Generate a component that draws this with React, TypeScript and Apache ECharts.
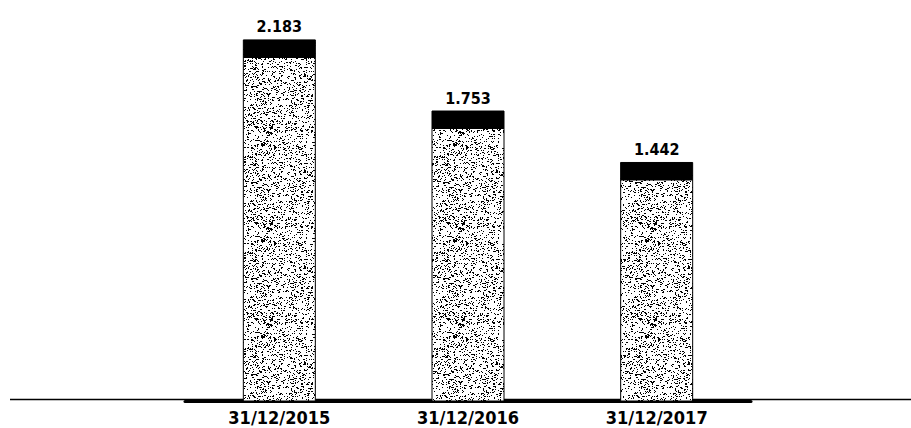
import React, { useEffect, useRef } from "react";
import * as echarts from "echarts";

const categories = ["31/12/2015", "31/12/2016", "31/12/2017"];
const values = [2183, 1753, 1442];
const valueLabels = ["2.183", "1.753", "1.442"];

function makeStipple(): HTMLCanvasElement {
  const size = 96;
  const c = document.createElement("canvas");
  c.width = size;
  c.height = size;
  const ctx = c.getContext("2d")!;
  ctx.fillStyle = "#ffffff";
  ctx.fillRect(0, 0, size, size);
  ctx.fillStyle = "#000000";
  let s = 1234567;
  const next = () => {
    s = (s * 1103515245 + 12345) & 0x7fffffff;
    return s / 0x7fffffff;
  };
  for (let y = 0; y < size; y++) {
    for (let x = 0; x < size; x++) {
      const r = next();
      if (r < 0.13) ctx.fillRect(x, y, 1, 1);
      else if (r < 0.16) ctx.fillRect(x, y, 2, 1);
    }
  }
  return c;
}

export default function App() {
  const ref = useRef<HTMLDivElement>(null);
  useEffect(() => {
    if (!ref.current) return;
    const chart = echarts.init(ref.current, null, { renderer: "svg" });
    const stipple = makeStipple();
    const pattern = { image: stipple, repeat: "repeat", imageWidth: 96, imageHeight: 96 };
    const barW = 72;
    const capH = 18;
    const font = "'DejaVu Sans Condensed', 'DejaVu Sans', sans-serif";
    chart.setOption({
      animation: false,
      backgroundColor: "#ffffff",
      grid: { left: 185, right: 160, top: 4, bottom: 27 },
      xAxis: {
        type: "category",
        data: categories,
        axisLine: { show: true, lineStyle: { color: "#000", width: 3 } },
        axisTick: { show: false },
        axisLabel: {
          color: "#000",
          fontFamily: font,
          fontWeight: "bold",
          fontSize: 18,
          margin: 7,
        },
      },
      yAxis: {
        type: "value",
        min: 0,
        max: 2400,
        show: false,
        splitLine: { show: false },
      },
      graphic: [
        {
          type: "line",
          z: 0,
          shape: { x1: 10, y1: 399.5, x2: 911, y2: 399.5 },
          style: { stroke: "#000", lineWidth: 1.5 },
        },
      ],
      series: [
        {
          type: "custom",
          data: values.map((v, i) => [i, v]),
          renderItem: (params: any, api: any) => {
            const i = api.value(0);
            const v = api.value(1);
            const top = api.coord([i, v]);
            const base = api.coord([i, 0]);
            const x = top[0] - barW / 2;
            return {
              type: "group",
              children: [
                {
                  type: "rect",
                  shape: { x, y: top[1], width: barW, height: base[1] - top[1] },
                  style: { fill: pattern, stroke: "#000", lineWidth: 1 },
                },
                {
                  type: "rect",
                  shape: { x, y: top[1], width: barW, height: capH },
                  style: { fill: "#000" },
                },
                {
                  type: "text",
                  x: top[0],
                  y: top[1] - 5,
                  style: {
                    text: valueLabels[params.dataIndex],
                    fill: "#000",
                    font: `bold 16px ${font}`,
                    align: "center",
                    verticalAlign: "bottom",
                  },
                },
              ],
            };
          },
        },
      ],
    });
    return () => chart.dispose();
  }, []);
  return (
    <div
      ref={ref}
      style={{ position: "fixed", left: 0, top: 0, width: 911, height: 428 }}
    />
  );
}
